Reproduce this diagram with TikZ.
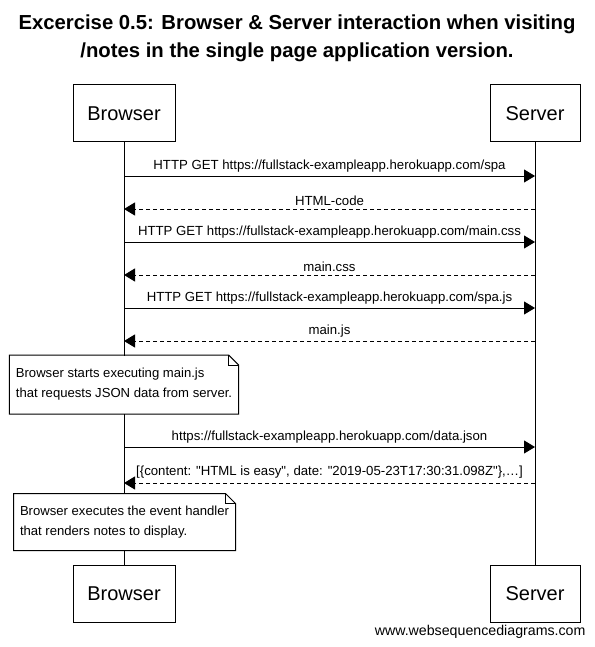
\documentclass[tikz,border=0pt]{standalone}
\usepackage{fontspec}
\setmainfont{Liberation Sans}[Ligatures=TeXOff]
\usetikzlibrary{arrows.meta,positioning,calc}

\begin{document}
\begin{tikzpicture}[
    x=1pt, y=-1pt, line width=1pt,
    actor/.style={rectangle, draw, fill=white, minimum height=57pt,
                  inner sep=0pt, font=\fontsize{20}{24}\selectfont},
    lifeline/.style={draw, line width=1pt},
    msg/.style={-{Triangle[length=11pt,width=13pt]}},
    reply/.style={msg, dash pattern=on 4pt off 3pt},
    lbl/.style={above=1pt, font=\fontsize{13.2}{15}\selectfont, inner sep=2pt},
    note/.style={rectangle, fill=white, inner xsep=6pt, inner ysep=0pt,
                 align=left, font=\fontsize{13.1}{20}\selectfont}
]
    \useasboundingbox (0,0) rectangle (594,647);

    % Title
    \node[align=center, font=\fontsize{20.3}{28}\selectfont\bfseries] (title) at (297,38.5)
        {Excercise 0.5: Browser \& Server interaction when visiting\\
         /notes in the single page application version.};

    % Participants
    \node[actor, minimum width=102pt] (bt) at (124,113.5) {Browser};
    \node[actor, minimum width=90pt]  (st) at (535,113.5) {Server};
    \node[actor, minimum width=102pt] (bb) at (124,593.5) {Browser};
    \node[actor, minimum width=90pt]  (sb) at (535,593.5) {Server};

    % Lifelines
    \draw[lifeline] (bt.south) -- (bb.north);
    \draw[lifeline] (st.south) -- (sb.north);

    % Message points
    \foreach \i/\y in {1/176, 2/209, 3/242, 4/275, 5/308, 6/341, 7/447, 8/483} {
        \coordinate (b\i) at (124,\y);
        \coordinate (s\i) at (535,\y);
    }

    % Messages
    \draw[msg]   (b1) -- node[lbl] {HTTP GET https://fullstack-exampleapp.herokuapp.com/spa} (s1);
    \draw[reply] (s2) -- node[lbl] {HTML-code} (b2);
    \draw[msg]   (b3) -- node[lbl] {HTTP GET https://fullstack-exampleapp.herokuapp.com/main.css} (s3);
    \draw[reply] (s4) -- node[lbl] {main.css} (b4);
    \draw[msg]   (b5) -- node[lbl] {HTTP GET https://fullstack-exampleapp.herokuapp.com/spa.js} (s5);
    \draw[reply] (s6) -- node[lbl] {main.js} (b6);

    % Note 1
    \node[note, minimum width=228pt, minimum height=58pt] (n1) at (124,384.5)
        {Browser starts executing main.js\\that requests JSON data from server.};
    \draw (n1.south west) -- (n1.north west) -- ($(n1.north east)+(-10,0)$)
        -- ($(n1.north east)+(0,10)$) -- (n1.south east) -- cycle;
    \draw[line width=0.6pt] ($(n1.north east)+(-10,0)$) -- ($(n1.north east)+(-10,10)$)
        -- ($(n1.north east)+(0,10)$);

    \draw[msg]   (b7) -- node[lbl] {https://fullstack-exampleapp.herokuapp.com/data.json} (s7);
    \draw[reply] (s8) -- node[lbl, above=2pt]
        {[\{content: "HTML is easy", date: "2019-05-23T17:30:31.098Z"\},\ldots]} (b8);

    % Note 2
    \node[note, minimum width=221pt, minimum height=56pt] (n2) at (124.5,522)
        {Browser executes the event handler\\that renders notes to display.};
    \draw (n2.south west) -- (n2.north west) -- ($(n2.north east)+(-10,0)$)
        -- ($(n2.north east)+(0,10)$) -- (n2.south east) -- cycle;
    \draw[line width=0.6pt] ($(n2.north east)+(-10,0)$) -- ($(n2.north east)+(-10,10)$)
        -- ($(n2.north east)+(0,10)$);

    % Footer
    \node[anchor=east, font=\fontsize{14.2}{16}\selectfont, inner sep=0pt] (foot) at (586,632)
        {www.websequencediagrams.com};
\end{tikzpicture}
\end{document}
